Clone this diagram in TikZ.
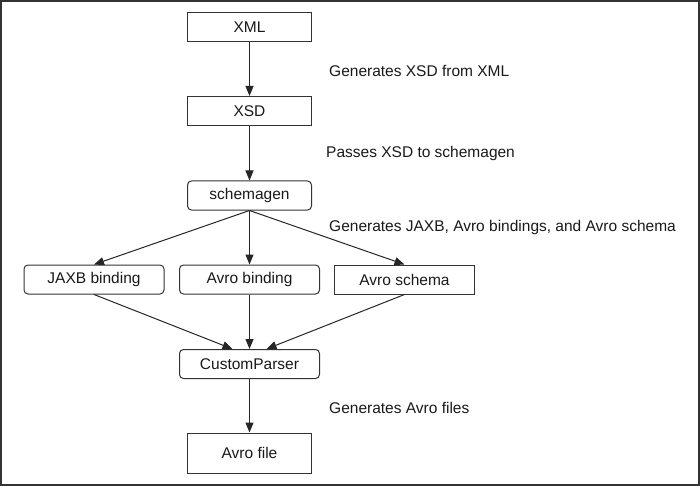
\documentclass[tikz,border=0pt]{standalone}
\usepackage{fontspec}
\setmainfont{Liberation Sans}
\usetikzlibrary{arrows.meta}

\begin{document}
\begin{tikzpicture}[x=1pt,y=-1pt,
  every node/.append style={font=\fontsize{15.5}{18}\selectfont,text=black!90},
  box/.style={draw=black!80,line width=1pt,minimum width=124pt,minimum height=29pt,inner sep=0pt},
  rbox/.style={box,rounded corners=4pt,minimum width=140pt},
  note/.style={anchor=base west,inner sep=0pt},
  flow/.style={draw=black!85,line width=1pt,-{Triangle[length=10pt,width=8pt]}}]
\useasboundingbox (0,0) rectangle (700,486);
\draw[line width=2pt,draw=black!80] (1,1) rectangle (699,485);
% main column
\node[box] (xml) at (249.5,27) {XML};
\node[box] (xsd) at (249.5,111) {XSD};
\node[rbox,minimum width=124pt] (schemagen) at (249.5,195.5) {schemagen};
\node[rbox] (jaxb) at (94,279.5) {JAXB binding};
\node[rbox] (avrobind) at (249.5,279.5) {Avro binding};
\node[box,minimum width=140pt] (avroschema) at (404.5,279.5) {Avro schema};
\node[rbox] (parser) at (249.5,364) {CustomParser};
\node[box,minimum height=40pt] (avrofile) at (249.5,453) {Avro file};
% notes
\node[note] (n1) at (329,77) {Generates XSD from XML};
\node[note] (n2) at (326,158) {Passes XSD to schemagen};
\node[note] (n3) at (329,231) {Generates JAXB, Avro bindings, and Avro schema};
\node[note] (n4) at (329,413) {Generates Avro files};
% arrows
\draw[flow] (xml) -- (xsd);
\draw[flow] (xsd) -- (schemagen);
\draw[flow] (schemagen.south) -- (jaxb.north);
\draw[flow] (schemagen.south) -- (avrobind.north);
\draw[flow] (schemagen.south) -- (avroschema.north);
\draw[flow] (jaxb.south) -- ([xshift=-17pt]parser.north);
\draw[flow] (avrobind.south) -- (parser.north);
\draw[flow] (avroschema.south) -- ([xshift=17pt]parser.north);
\draw[flow] (parser) -- (avrofile);
\end{tikzpicture}
\end{document}
